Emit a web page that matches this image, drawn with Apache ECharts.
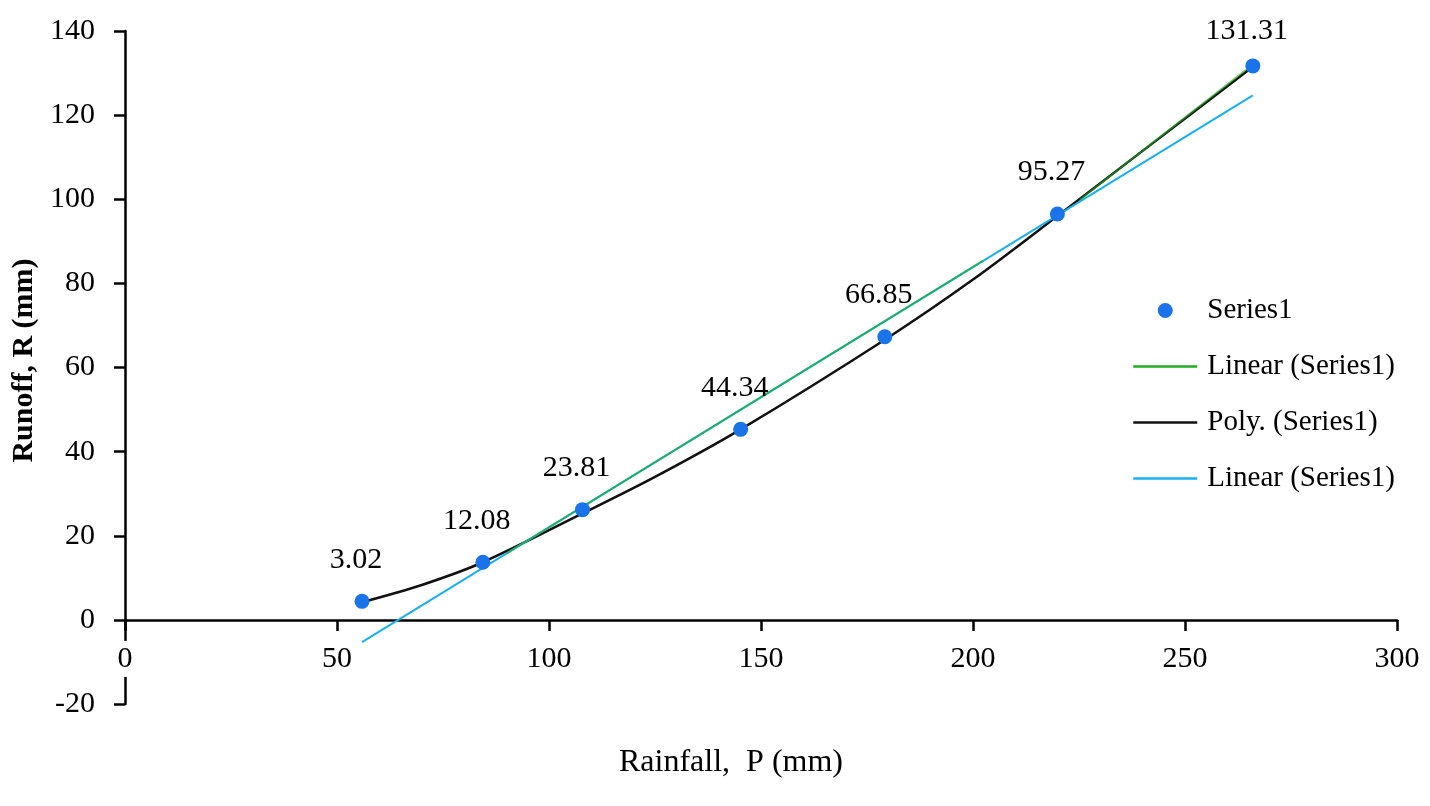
<!DOCTYPE html>
<html>
<head>
<meta charset="utf-8">
<title>Rainfall vs Runoff</title>
<script src="https://cdn.jsdelivr.net/npm/echarts@6/dist/echarts.min.js"></script>
<style>
  html, body { margin: 0; padding: 0; background: #ffffff; }
  #chart { width: 1430px; height: 806px; }
</style>
</head>
<body>
<div id="chart"></div>
<script>
// observed points (rainfall P, runoff R) and the value printed over each one
var rainfall = [55.9, 84.4, 107.9, 145.2, 179.2, 219.9, 266.0];
var runoff = [4.4, 13.7, 26.2, 45.3, 67.3, 96.5, 131.7];
var pointLabels = ['3.02', '12.08', '23.81', '44.34', '66.85', '95.27', '131.31'];

// light blue linear trend, read at its two ends
var linearBlueX = [55.9, 266.0];
var linearBlueY = [-5.3, 124.7];

// green linear trend, visible in two pieces (null breaks the line)
var linearGreenX = [90.0, 202.4, null, 225.2, 264.4];
var linearGreenY = [15.8, 85.4, null, 99.9, 130.8];

// black polynomial trend
var polyX = [55.9, 70, 84.4, 107.9, 125, 145.2, 179.2, 200, 219.9, 240, 266.0];
var polyY = [4.2, 8.3, 13.7, 25.3, 34.0, 45.3, 66.6, 80.9, 96.0, 111.5, 131.5];

// axis ticks
var xTicks = { min: 0, max: 300, step: 50 };
var yTicks = { min: -20, max: 140, step: 20 };

function pairs(xs, ys) {
  var out = [];
  for (var i = 0; i < xs.length; i++)
    out.push(xs[i] === null ? null : [xs[i], ys[i]]);
  return out;
}

var font = 'Liberation Serif, Times New Roman, serif';
var chart = echarts.init(document.getElementById('chart'));

var gridTop = 31, gridBottom = 102;
// pixel distance from the bottom of the plot up to R = 0, so the x axis sits on zero
var zeroLift = (806 - gridTop - gridBottom) * (0 - yTicks.min) / (yTicks.max - yTicks.min);

var scatterData = [];
for (var i = 0; i < rainfall.length; i++) {
  var item = { value: [rainfall[i], runoff[i]], label: { formatter: pointLabels[i] } };
  if (i === rainfall.length - 1) item.label.distance = 12; // top label sits closer
  scatterData.push(item);
}

var lineIcon = { itemStyle: { opacity: 0 }, lineStyle: { width: 2.5, opacity: 1 } };

var option = {
  backgroundColor: '#ffffff',
  animation: false,
  grid: { left: 125, right: 33, top: gridTop, bottom: gridBottom, outerBoundsMode: 'none' },
  legend: {
    orient: 'vertical',
    left: 1127,
    top: 291,
    itemWidth: 64,
    itemHeight: 15,
    itemGap: 27,
    textStyle: { fontFamily: font, fontSize: 29, color: '#000', padding: [0, 0, 0, 5] },
    data: [
      { name: 'Series1', icon: 'circle' },
      { name: 'Linear (Series1)', itemStyle: { opacity: 0 }, lineStyle: { color: '#22aa22', width: 2.5, opacity: 1 } },
      Object.assign({ name: 'Poly. (Series1)' }, lineIcon),
      Object.assign({ name: 'Linear (Series1) ' }, lineIcon)
    ]
  },
  xAxis: {
    type: 'value',
    min: xTicks.min,
    max: xTicks.max,
    interval: xTicks.step,
    offset: -zeroLift,
    z: 3,
    name: 'Rainfall,  P (mm)',
    nameLocation: 'middle',
    nameGap: 127,
    nameTextStyle: { fontFamily: font, fontSize: 32, color: '#000', padding: [0, 60, 0, 0] },
    axisLine: { onZero: false, lineStyle: { color: '#000', width: 2.5 } },
    axisTick: { length: 11, lineStyle: { color: '#000', width: 2.5 } },
    axisLabel: {
      fontFamily: font, fontSize: 30, color: '#000', margin: 21,
      backgroundColor: '#ffffff', padding: [3, 4]
    },
    splitLine: { show: false }
  },
  yAxis: {
    type: 'value',
    min: yTicks.min,
    max: yTicks.max,
    interval: yTicks.step,
    z: 1,
    name: 'Runoff, R (mm)',
    nameLocation: 'middle',
    nameGap: 86,
    nameTextStyle: { fontFamily: font, fontSize: 30, fontWeight: 'bold', color: '#000', padding: [0, 0, 0, 14] },
    axisLine: { show: true, onZero: false, lineStyle: { color: '#000', width: 2.5 } },
    axisTick: { show: true, length: 11, lineStyle: { color: '#000', width: 2.5 } },
    axisLabel: { fontFamily: font, fontSize: 30, color: '#000', margin: 30 },
    splitLine: { show: false }
  },
  series: [
    {
      name: 'Poly. (Series1)',
      type: 'line',
      data: pairs(polyX, polyY),
      smooth: 0.3,
      symbol: 'none',
      lineStyle: { color: '#111', width: 2.5 },
      itemStyle: { color: '#111' },
      z: 2
    },
    {
      name: 'Linear (Series1) ',
      type: 'line',
      data: pairs(linearBlueX, linearBlueY),
      symbol: 'none',
      lineStyle: { color: '#1ab0f0', width: 2 },
      itemStyle: { color: '#1ab0f0' },
      z: 3
    },
    {
      name: 'Linear (Series1)',
      type: 'line',
      data: pairs(linearGreenX, linearGreenY),
      connectNulls: false,
      symbol: 'none',
      lineStyle: { color: '#22aa22', width: 2, opacity: 0.65 },
      itemStyle: { color: '#22aa22' },
      z: 4
    },
    {
      name: 'Series1',
      type: 'scatter',
      data: scatterData,
      symbolSize: 15,
      itemStyle: { color: '#1a73e8', opacity: 1 },
      label: {
        show: true,
        position: 'top',
        distance: 19,
        offset: [-6, 0],
        fontFamily: font,
        fontSize: 30,
        color: '#000'
      },
      z: 5
    }
  ]
};

chart.setOption(option);
</script>
</body>
</html>
